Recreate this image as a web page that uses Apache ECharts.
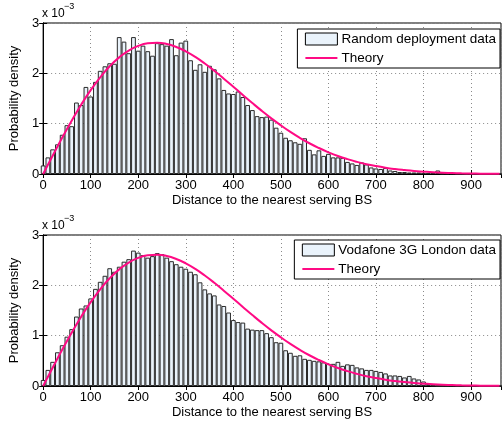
<!DOCTYPE html>
<html><head><meta charset="utf-8">
<script src="https://cdn.jsdelivr.net/npm/echarts@6/dist/echarts.min.js"></script>
<style>html,body{margin:0;padding:0;background:#fff}#c{width:502px;height:421px}</style>
</head><body><div id="c"></div>
<script>
// Histogram bin centres (distance, bin width 10)
const binWidth = 10;
const binCenters = [];
for (let d = 0; d <= 960; d += binWidth) binCenters.push(d);

// Probability density values, in units of 1e-3
const randomDensity = [
  0.17,0.33,0.49,0.59,0.78,0.97,0.95,1.42,1.37,1.73,
  1.54,1.83,2.05,2.14,2.20,2.19,2.72,2.63,2.40,2.72,
  2.45,2.55,2.44,2.35,2.60,2.58,2.55,2.68,2.36,2.61,
  2.65,2.26,2.07,2.18,2.03,2.15,2.08,1.90,1.67,1.60,
  1.59,1.64,1.53,1.37,1.27,1.15,1.13,1.14,1.08,0.92,
  0.82,0.72,0.67,0.63,0.60,0.71,0.48,0.39,0.47,0.36,
  0.40,0.33,0.33,0.32,0.24,0.21,0.18,0.23,0.19,0.13,
  0.11,0.10,0.12,0.07,0.06,0.04,0.04,0.03,0.03,0.03,
  0.02,0.02,0.02,0.07,0.01,0.01,0.01,0.005,0,0,
  0,0,0,0,0,0,0
];
const vodafoneDensity = [
  0.12,0.32,0.48,0.67,0.81,0.98,1.13,1.38,1.54,1.60,
  1.74,1.93,2.07,2.19,2.34,2.27,2.37,2.47,2.52,2.69,
  2.65,2.60,2.55,2.58,2.64,2.62,2.55,2.48,2.42,2.37,
  2.33,2.27,2.22,2.06,1.92,1.84,1.80,1.62,1.59,1.46,
  1.31,1.27,1.26,1.14,1.12,1.11,1.11,1.05,0.97,0.87,
  0.86,0.71,0.66,0.60,0.61,0.54,0.52,0.50,0.49,0.47,
  0.44,0.44,0.48,0.40,0.43,0.42,0.37,0.35,0.32,0.32,
  0.30,0.28,0.25,0.21,0.21,0.20,0.17,0.20,0.15,0.13,
  0.09,0.04,0.01,0,0,0,0,0,0,0,
  0,0,0,0,0,0,0
];

// Theory curve, units of 1e-3
const theoryDistance = [0,20,40,60,80,100,120,140,160,180,200,220,240,260,280,300,320,340,360,380,
  400,420,440,460,480,500,520,540,560,580,600,620,640,660,680,700,720,740,760,780,
  800,820,840,860,880,900,920,940,960];
const theoryDensity = [0,0.363,0.719,1.059,1.377,1.666,1.922,2.140,2.317,2.453,2.545,2.596,2.608,2.583,2.524,2.437,2.326,2.195,2.050,1.894,
  1.733,1.571,1.410,1.254,1.106,0.966,0.836,0.718,0.611,0.516,0.432,0.358,0.295,0.241,0.195,0.157,0.125,0.099,0.078,0.060,
  0.047,0.035,0.026,0.020,0.014,0.010,0.007,0.005,0.0035];

const xTicks = [0,100,200,300,400,500,600,700,800,900];
const yTicks = [0,1,2,3];

const xMax = 963;
const gridLeft = 43, gridWidth = 458, gridHeight = 151;
const gridTops = [23, 235];
const FONT = 'Liberation Sans';
const barPx = gridWidth * binWidth / xMax;

function pairs(xs, ys) { return xs.map((x, i) => [x, ys[i]]); }

const grids = [], xAxes = [], yAxes = [], series = [], legends = [], graphics = [];
const dataSets = [
  { name: 'Random deployment data', values: randomDensity, legendTop: 29 },
  { name: 'Vodafone 3G London data', values: vodafoneDensity, legendTop: 240 }
];

dataSets.forEach((ds, g) => {
  grids.push({ left: gridLeft, top: gridTops[g], width: gridWidth, height: gridHeight,
    show: true, borderColor: '#000', borderWidth: 1, backgroundColor: 'transparent' });
  xAxes.push({
    type: 'value', gridIndex: g, min: 0, max: xMax, interval: 100, position: 'bottom',
    name: 'Distance to the nearest serving BS', nameLocation: 'middle', nameGap: 20,
    nameTextStyle: { color: '#000', fontSize: 13, fontFamily: FONT },
    axisLine: { show: true, lineStyle: { color: '#000', width: 1 } },
    axisTick: { show: true, inside: true, length: 4, lineStyle: { color: '#000' } },
    axisLabel: { color: '#000', fontSize: 13, fontFamily: FONT, margin: 5, showMaxLabel: false,
      formatter: v => (xTicks.indexOf(v) >= 0 ? String(v) : '') },
    splitLine: { show: true, lineStyle: { color: '#8a8a8a', type: [1, 3], width: 1 } }
  });
  xAxes.push({
    type: 'value', gridIndex: g, min: 0, max: xMax, interval: 100, position: 'top',
    axisLine: { show: true, lineStyle: { color: '#000', width: 1 } },
    axisTick: { show: true, inside: true, length: 4, lineStyle: { color: '#000' } },
    axisLabel: { show: false }, splitLine: { show: false }
  });
  yAxes.push({
    type: 'value', gridIndex: g, min: 0, max: 3, interval: 1, position: 'left',
    name: 'Probability density', nameLocation: 'middle', nameGap: 11,
    nameTextStyle: { color: '#000', fontSize: 13, fontFamily: FONT },
    axisLine: { show: true, lineStyle: { color: '#000', width: 1 } },
    axisTick: { show: true, inside: true, length: 4, lineStyle: { color: '#000' } },
    axisLabel: { color: '#000', fontSize: 13, fontFamily: FONT, margin: 4,
      formatter: v => (yTicks.indexOf(v) >= 0 ? String(v) : '') },
    splitLine: { show: true, lineStyle: { color: '#8a8a8a', type: [1, 3], width: 1 } }
  });
  yAxes.push({
    type: 'value', gridIndex: g, min: 0, max: 3, interval: 1, position: 'right',
    axisLine: { show: true, lineStyle: { color: '#000', width: 1 } },
    axisTick: { show: true, inside: true, length: 4, lineStyle: { color: '#000' } },
    axisLabel: { show: false }, splitLine: { show: false }
  });
  series.push({
    name: ds.name, type: 'bar', xAxisIndex: 2 * g, yAxisIndex: 2 * g,
    data: pairs(binCenters, ds.values), barWidth: barPx, clip: true,
    itemStyle: { color: '#EAF3FB', borderColor: '#2a2a2a', borderWidth: 1 },
    emphasis: { disabled: true }
  });
  series.push({
    name: 'Theory', type: 'line', xAxisIndex: 2 * g, yAxisIndex: 2 * g,
    data: pairs(theoryDistance, theoryDensity), smooth: true, symbol: 'none', clip: true,
    lineStyle: { color: '#FF0A84', width: 2 }, itemStyle: { color: '#FF0A84' }, z: 5
  });
  legends.push({
    data: [
      { name: ds.name, icon: 'rect', itemStyle: { color: '#EAF3FB', borderColor: '#000', borderWidth: 1 } },
      { name: 'Theory', itemStyle: { opacity: 0 }, lineStyle: { color: '#FF0A84', width: 2 } }
    ],
    orient: 'vertical', right: 2, top: ds.legendTop,
    backgroundColor: '#fff', borderColor: '#000', borderWidth: 1, borderRadius: 0,
    padding: [3, 4, 3, 7], itemGap: 5, itemWidth: 32, itemHeight: 12,
    textStyle: { color: '#000', fontSize: 13.5, fontFamily: FONT, padding: [0, 0, 0, -1] },
    selectedMode: false
  });
  graphics.push({ type: 'text', left: 42, top: gridTops[g] - 15,
    style: { text: 'x 10', fill: '#000', fontSize: 12, fontFamily: FONT } });
  graphics.push({ type: 'text', left: 64, top: gridTops[g] - 21,
    style: { text: '\u22123', fill: '#000', fontSize: 9, fontFamily: FONT } });
});

const chart = echarts.init(document.getElementById('c'), null, { renderer: 'canvas' });
chart.setOption({
  animation: false,
  backgroundColor: '#fff',
  grid: grids, xAxis: xAxes, yAxis: yAxes, series: series, legend: legends,
  graphic: graphics
});
</script></body></html>
